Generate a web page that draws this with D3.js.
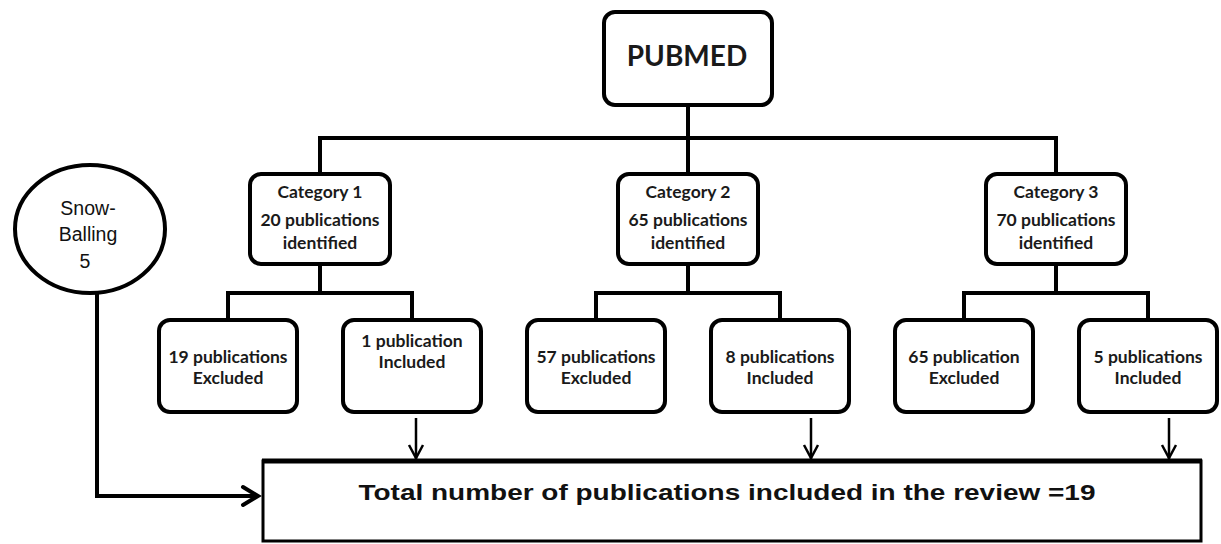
<!DOCTYPE html>
<html>
<head>
<meta charset="utf-8">
<script src="https://cdn.jsdelivr.net/npm/d3@7"></script>
<style>
  body { margin: 0; background: #fff; }
  svg { display: block; }
  .box-text { font-family: Lato, "Open Sans", sans-serif; font-weight: bold; fill: #1a1a1a; }
</style>
</head>
<body>
<div id="chart"></div>
<script>
// flow chart data
const source = "PUBMED";
const categories = ["Category 1", "Category 2", "Category 3"];
const identified = [20, 65, 70];
const excluded = [19, 57, 65];
const excludedWord = ["publications", "publications", "publication"];
const included = [1, 8, 5];
const includedWord = ["publication", "publications", "publications"];
const snowballing = 5;
const total = 19;

const width = 1221;
const height = 544;

// layout
const arrowShift = [4, 31, 21];
const boxW = 144, boxH = 94;
const childW = 142, childH = 96, childOff = 92;

const svg = d3.select("#chart")
  .append("svg")
  .attr("width", width)
  .attr("height", height);

const x = d3.scalePoint()
  .domain(categories)
  .range([320, 1056]);

const y = {
  top: 10, topBottom: 107, trunk: 138,
  cat: 172, catBottom: 266, branch: 293,
  child: 318, childBottom: 414,
  total: 460, totalBottom: 541
};

const line = (pts) => d3.line()(pts);

function roundBox(cx, y0, w, h) {
  svg.append("rect")
    .attr("x", cx - w / 2 + 2)
    .attr("y", y0 + 2)
    .attr("width", w - 4)
    .attr("height", h - 4)
    .attr("rx", 11)
    .attr("fill", "#fff")
    .attr("stroke", "#000")
    .attr("stroke-width", 4);
}

function lines(cx, baselines, rows, size) {
  rows.forEach((t, i) => {
    svg.append("text")
      .attr("class", "box-text")
      .attr("x", cx)
      .attr("y", baselines[i])
      .attr("text-anchor", "middle")
      .attr("font-size", size)
      .text(t);
  });
}

const conn = svg.append("g")
  .attr("fill", "none")
  .attr("stroke", "#000")
  .attr("stroke-width", 4)
  .attr("stroke-linejoin", "miter");

const cTop = x(categories[1]);

// trunk from PUBMED
conn.append("path").attr("d", line([[cTop, y.topBottom - 2], [cTop, y.trunk]]));
conn.append("path").attr("d", line([[x(categories[0]), y.cat + 2], [x(categories[0]), y.trunk], [x(categories[2]), y.trunk], [x(categories[2]), y.cat + 2]]));
categories.forEach(c => {
  conn.append("path").attr("d", line([[x(c), y.trunk], [x(c), y.cat + 2]]));
  conn.append("path").attr("d", line([[x(c), y.catBottom - 2], [x(c), y.branch]]));
  conn.append("path").attr("d", line([
    [x(c) - childOff, y.child + 2], [x(c) - childOff, y.branch],
    [x(c) + childOff, y.branch], [x(c) + childOff, y.child + 2]
  ]));
});

// PUBMED box
roundBox(cTop, y.top, 172, y.topBottom - y.top);
svg.append("text")
  .attr("class", "box-text")
  .attr("x", cTop - 1)
  .attr("y", 66)
  .attr("text-anchor", "middle")
  .attr("font-size", 28)
  .text(source);

// category boxes
categories.forEach((c, i) => {
  roundBox(x(c), y.cat, boxW, boxH);
  lines(x(c), [198, 226, 249], [c, identified[i] + " publications", "identified"], 17.5);
});

// excluded / included boxes
categories.forEach((c, i) => {
  roundBox(x(c) - childOff, y.child, childW, childH);
  lines(x(c) - childOff, [363, 384], [excluded[i] + " " + excludedWord[i], "Excluded"], 17.5);
  roundBox(x(c) + childOff, y.child, childW, childH);
  lines(x(c) + childOff, i === 0 ? [347, 368] : [363, 384], [included[i] + " " + includedWord[i], "Included"], 17.5);
});

// arrows into the total box
const arr = svg.append("g")
  .attr("fill", "none")
  .attr("stroke", "#000")
  .attr("stroke-width", 2.5);
categories.forEach((c, i) => {
  const ax = x(c) + childOff + arrowShift[i];
  arr.append("path").attr("d", line([[ax, y.childBottom + 4], [ax, y.total - 1]]));
  arr.append("path").attr("d", line([[ax - 7, y.total - 15], [ax, y.total - 2], [ax + 7, y.total - 15]]));
});

// snowballing circle
svg.append("ellipse")
  .attr("cx", 90)
  .attr("cy", 229)
  .attr("rx", 75)
  .attr("ry", 64)
  .attr("fill", "#fff")
  .attr("stroke", "#000")
  .attr("stroke-width", 4);

const snow = svg.append("g")
  .attr("font-family", "'Liberation Sans', Arial, sans-serif")
  .attr("font-size", 19.5)
  .attr("fill", "#111")
  .attr("text-anchor", "middle");
snow.append("text").attr("x", 88).attr("y", 215).text("Snow-");
snow.append("text").attr("x", 88).attr("y", 241).text("Balling");
snow.append("text").attr("x", 85).attr("y", 268).text(snowballing);

const sy = 496;
svg.append("path")
  .attr("d", line([[97, 293], [97, sy], [258, sy]]))
  .attr("fill", "none")
  .attr("stroke", "#000")
  .attr("stroke-width", 4);
svg.append("path")
  .attr("d", line([[243, sy - 9], [258, sy], [243, sy + 9]]))
  .attr("fill", "none")
  .attr("stroke", "#000")
  .attr("stroke-width", 4)
  .attr("stroke-linecap", "round");

// total box
svg.append("rect")
  .attr("x", 263)
  .attr("y", y.total + 1)
  .attr("width", 938)
  .attr("height", y.totalBottom - y.total - 1)
  .attr("fill", "#fff")
  .attr("stroke", "#000")
  .attr("stroke-width", 3);
svg.append("path")
  .attr("d", line([[262, y.total + 1], [1202, y.total + 1]]))
  .attr("stroke", "#000")
  .attr("stroke-width", 5);

svg.append("text")
  .attr("x", 727)
  .attr("y", 500)
  .attr("text-anchor", "middle")
  .attr("font-family", "'Liberation Sans Narrow', 'Liberation Sans', Arial, sans-serif")
  .attr("font-weight", "bold")
  .attr("font-size", 22)
  .attr("fill", "#111")
  .attr("textLength", 737)
  .attr("lengthAdjust", "spacingAndGlyphs")
  .text("Total number of publications included in the review =" + total);
</script>
</body>
</html>
